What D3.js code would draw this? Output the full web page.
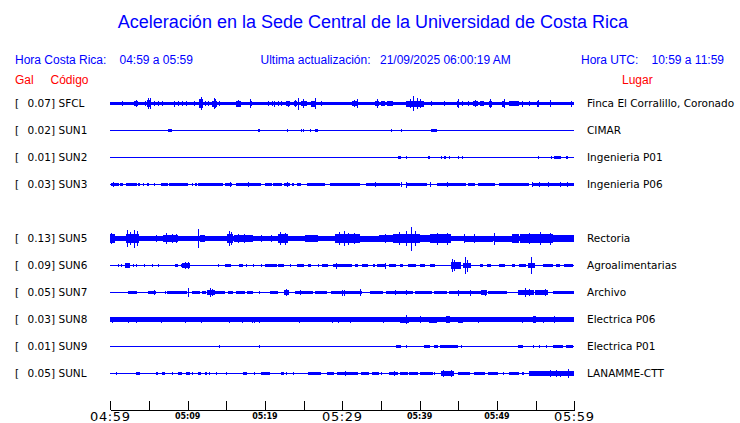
<!DOCTYPE html>
<html>
<head>
<meta charset="utf-8">
<script src="https://cdn.jsdelivr.net/npm/d3@7"></script>
<style>
  html, body { margin: 0; padding: 0; background: #ffffff; }
  svg { display: block; }
</style>
</head>
<body>
<svg id="chart" width="740" height="423"></svg>
<script>
// ---------------- DATA ----------------
const titleText = "Aceleración en la Sede Central de la Universidad de Costa Rica";
const localRange = "04:59 a 05:59";
const utcRange = "10:59 a 11:59";
const lastUpdate = "21/09/2025 06:00:19 AM";

// row order (SUN4 slot left empty)
const rowOrder = ["SFCL","SUN1","SUN2","SUN3","SUN4","SUN5","SUN6","SUN7","SUN8","SUN9","SUNL"];
const codes = ["SFCL","SUN1","SUN2","SUN3","SUN5","SUN6","SUN7","SUN8","SUN9","SUNL"];
const peakGal = [0.07,0.02,0.01,0.03,0.13,0.09,0.05,0.03,0.01,0.05];
const places = ["Finca El Corralillo, Coronado","CIMAR","Ingenieria P01","Ingenieria P06","Rectoria",
  "Agroalimentarias","Archivo","Electrica P06","Electrica P01","LANAMME-CTT"];

// time axis (minutes after 04:59)
const tickMinutes = [0,5,10,15,20,25,30,35,40,45,50,55,60];
const majorTicks = {0:"04:59",30:"05:29",60:"05:59"};
const minorTicks = {10:"05:09",20:"05:19",40:"05:39",50:"05:49"};

// envelope events per trace: [start minute, end minute, normalized half-amplitude]
const evSFCL = [[0,60,0.14],[1.5,1.5,0.2],[3.1,3.6,0.22],[3.3,3.3,0.3],[4.5,4.5,0.2],[4.7,5.2,0.3],[4.9,4.9,0.48],[5.1,5.1,0.42],
  [5.7,5.7,0.2],[6.2,6.2,0.2],[6.7,6.7,0.2],[8.2,8.2,0.25],[8.7,8.7,0.2],[9.3,9.3,0.2],[9.8,9.8,0.2],[10.8,10.8,0.2],
  [11.5,12,0.35],[11.7,11.7,0.55],[12.3,12.3,0.2],[12.6,12.6,0.2],[13.2,13.8,0.25],[13.4,13.4,0.45],[13.6,13.6,0.35],
  [14.1,14.1,0.2],[15.1,15.1,0.15],[16.3,16.9,0.25],[16.5,16.5,0.3],[18.0,18.0,0.35],[18.2,18.2,0.2],[20.4,20.4,0.2],
  [20.9,20.9,0.2],[21.2,21.2,0.25],[21.7,21.7,0.2],[22.1,22.1,0.2],[22.7,23.2,0.2],[23.0,23.0,0.25],[23.7,24.1,0.22],
  [23.9,23.9,0.3],[24.3,24.3,0.5],[24.7,25.4,0.22],[24.9,24.9,0.35],[26.0,26.6,0.25],[26.5,26.5,0.45],[27.2,27.2,0.2],
  [28.3,28.3,0.15],[28.9,28.9,0.15],[31.2,32.0,0.2],[31.5,31.5,0.3],[31.9,31.9,0.4],[34.2,34.8,0.22],[34.5,34.5,0.35],
  [35.0,35.5,0.18],[35.8,36.6,0.18],[36.2,36.2,0.2],[38.3,40.6,0.25],[38.8,38.8,0.35],[39.2,39.2,0.6],[39.6,39.6,0.45],
  [40.0,40.0,0.4],[41.5,41.5,0.2],[43.2,43.2,0.2],[44.8,45.1,0.25],[44.9,44.9,0.4],[45.5,45.5,0.2],[46.2,46.2,0.2],
  [46.9,47.5,0.22],[47.1,47.1,0.3],[47.8,48.3,0.18],[49.0,49.4,0.25],[49.1,49.1,0.35],[50.7,51.0,0.25],[50.9,50.9,0.4],
  [51.6,52.9,0.18],[53.2,53.2,0.25],[54.2,54.2,0.2],[55.2,55.4,0.25],[55.3,55.3,0.3],[56.9,56.9,0.3],[59.6,59.6,0.25]];
const evSUN1 = [[7.4,8.0,0.13],[19.1,19.3,0.13],[22.9,22.9,0.09],[24.6,24.6,0.09],[24.9,25.1,0.12],[25.8,25.8,0.09],
  [26.5,26.8,0.12],[29.6,29.6,0.08],[29.9,29.9,0.08],[32.6,32.6,0.08],[36.3,36.3,0.09],[37.0,37.0,0.08],[37.6,37.6,0.09],
  [41.1,41.1,0.08],[41.5,42.2,0.12],[42.8,42.8,0.08],[56.3,56.3,0.08],[57.7,57.7,0.08]];
const evSUN2 = [[19.3,19.3,0.08],[36.0,36.0,0.08],[37.2,37.6,0.12],[38.3,38.3,0.1],[40.5,40.5,0.08],[41.1,41.4,0.12],
  [42.2,42.2,0.08],[42.7,42.7,0.1],[43.1,43.4,0.1],[43.8,43.8,0.1],[44.3,44.3,0.08],[44.9,45.0,0.1],[45.5,45.5,0.1],
  [53.3,53.3,0.08],[55.3,55.3,0.1],[57.0,57.0,0.1],[57.4,58.3,0.12],[58.9,59.2,0.12]];
const evSUN3 = [[0.1,1.1,0.13],[0.3,0.3,0.2],[1.3,1.7,0.13],[2.0,3.4,0.13],[3.6,3.8,0.13],[4.2,4.4,0.13],[4.8,5.0,0.13],
  [5.6,5.6,0.1],[6.5,7.4,0.13],[7.6,10.1,0.13],[10.5,10.6,0.13],[11.0,11.2,0.13],[11.4,14.6,0.13],[14.8,15.7,0.13],
  [15.5,15.5,0.2],[16.3,19.5,0.13],[17.8,17.8,0.22],[20.0,20.9,0.13],[21.1,22.2,0.13],[22.4,23.2,0.13],[22.8,22.8,0.2],
  [23.5,23.7,0.13],[24.2,24.6,0.13],[25.4,27.8,0.13],[28.4,32.3,0.13],[33.1,37.4,0.13],[34.2,34.2,0.2],[37.6,37.6,0.2],
  [38.2,38.2,0.25],[38.3,40.9,0.13],[41.3,41.3,0.2],[42.2,46.0,0.13],[43.5,43.5,0.2],[46.3,47.2,0.13],[47.6,49.8,0.13],
  [50.2,54.2,0.13],[54.5,54.5,0.2],[54.6,60,0.13],[55.4,55.4,0.2],[56.6,56.6,0.18],[58.1,58.1,0.2],[59.0,59.0,0.2]];
const evSUN5 = [[0,60,0.17],[0,0.6,0.4],[0.1,0.1,0.45],[2.0,3.7,0.4],[2.2,2.2,0.7],[2.6,2.6,0.55],[3.1,3.1,0.75],[3.4,3.4,0.6],
  [4.0,5.8,0.2],[5.9,5.9,0.3],[6.8,8.8,0.28],[7.2,7.2,0.42],[8.0,8.0,0.4],[8.5,8.5,0.38],[9.0,11.0,0.2],[11.4,11.4,0.82],
  [11.6,12.2,0.3],[12.5,14.9,0.2],[15.1,15.9,0.4],[15.3,15.3,0.65],[15.6,15.6,0.55],[16.0,18.4,0.3],[16.5,16.5,0.4],
  [17.3,17.3,0.4],[18.4,21.5,0.22],[19.5,19.5,0.3],[20.8,20.8,0.3],[21.7,23.0,0.35],[22.0,22.0,0.55],[22.6,22.6,0.5],
  [23.0,25.2,0.2],[25.2,26.9,0.28],[26.0,26.0,0.3],[27.0,29.0,0.2],[29.0,32.3,0.38],[29.6,29.6,0.55],[30.2,30.2,0.6],
  [30.8,30.8,0.5],[31.5,31.5,0.45],[32.3,34.8,0.25],[34.8,36.5,0.3],[35.5,35.5,0.35],[36.6,40.0,0.4],[37.3,37.3,0.55],
  [38.2,38.2,0.6],[38.9,38.9,1.0],[39.4,39.4,0.6],[40.0,41.3,0.3],[41.3,44.1,0.35],[42.2,42.2,0.5],[43.5,43.5,0.5],
  [44.1,45.6,0.2],[45.8,45.8,0.4],[45.9,49.5,0.25],[47.0,47.0,0.35],[49.6,49.6,0.5],[49.8,51.9,0.25],[52.0,52.9,0.38],
  [53.0,57.2,0.35],[54.2,54.2,0.45],[55.5,55.5,0.55],[56.8,56.8,0.5],[57.2,60,0.28]];
const evSUN6 = [[0.4,0.4,0.08],[1.0,1.0,0.1],[1.4,1.4,0.1],[1.9,2.6,0.18],[2.9,2.9,0.1],[3.3,3.3,0.1],[4.3,4.3,0.1],[5.4,5.4,0.1],
  [6.2,6.2,0.1],[8.4,8.7,0.11],[9.1,9.1,0.1],[9.3,10.3,0.18],[9.6,9.6,0.3],[10.0,10.0,0.28],[13.9,13.9,0.1],[14.8,15.6,0.13],
  [16.6,17.1,0.13],[17.6,17.6,0.12],[18.5,18.5,0.12],[19.5,19.5,0.12],[20.0,21.5,0.12],[21.7,22.5,0.13],[23.2,23.2,0.12],
  [24.2,25.1,0.11],[25.5,26.0,0.11],[26.8,26.8,0.1],[27.4,28.1,0.12],[28.8,30.3,0.16],[29.2,29.2,0.25],[30.3,31.2,0.11],
  [31.6,32.0,0.1],[32.6,33.3,0.1],[34.0,34.2,0.1],[34.5,35.7,0.13],[35.5,35.5,0.25],[36.0,37.0,0.11],[37.4,37.8,0.11],
  [38.5,39.5,0.11],[40.1,40.7,0.11],[41.3,42.0,0.12],[44.1,45.4,0.28],[44.2,44.2,0.55],[44.5,44.5,0.45],[45.6,46.7,0.18],
  [45.9,45.9,0.68],[46.1,46.1,0.5],[47.8,48.2,0.1],[48.7,49.2,0.11],[50.3,51.1,0.1],[51.9,52.3,0.11],[52.9,53.8,0.13],
  [54.0,54.9,0.22],[54.4,54.4,0.73],[55.9,57.2,0.12],[57.6,58.2,0.11],[58.7,59.8,0.11]];
const evSUN7 = [[0.4,0.4,0.08],[1.0,1.0,0.08],[1.9,1.9,0.08],[2.3,3.4,0.13],[4.9,5.9,0.12],[5.7,5.7,0.2],[7.1,7.1,0.1],
  [7.3,9.9,0.14],[10.0,10.0,0.38],[10.5,11.6,0.12],[11.8,12.4,0.1],[12.5,13.5,0.22],[12.9,12.9,0.38],[13.2,13.2,0.32],
  [13.5,14.8,0.15],[15.2,15.9,0.09],[16.3,17.4,0.13],[17.7,18.4,0.1],[19.2,19.2,0.1],[20.6,21.7,0.14],[22.4,23.1,0.17],
  [22.7,22.7,0.28],[23.9,26.2,0.14],[24.5,24.5,0.22],[26.5,28.0,0.13],[28.6,30.3,0.16],[30.0,30.0,0.25],[30.3,32.6,0.15],
  [30.2,30.2,0.25],[32.3,32.3,0.28],[33.6,35.3,0.1],[35.7,39.2,0.14],[36.8,36.8,0.22],[38.2,38.2,0.22],[39.4,41.6,0.13],
  [41.9,43.6,0.16],[43.8,47.9,0.14],[45.0,45.0,0.25],[46.5,46.5,0.25],[47.9,48.7,0.17],[48.5,48.5,0.25],[48.9,51.3,0.13],
  [52.7,54.8,0.22],[53.6,53.6,0.35],[54.1,54.1,0.3],[54.9,56.6,0.17],[56.2,56.2,0.28],[57.2,60,0.13]];
const evSUN8 = [[0,60,0.17],[30,60,0.19],[0.2,0.2,0.25],[2.3,2.3,0.25],[3.3,3.3,0.25],[6.6,6.6,0.25],[9.6,9.6,0.25],
  [11.7,11.7,0.25],[15.4,15.4,0.25],[17.0,17.0,0.25],[18.3,18.3,0.25],[18.6,18.6,0.25],[19.2,19.2,0.25],[24.4,24.4,0.25],
  [28.7,28.7,0.25],[29.5,29.5,0.25],[31.0,31.0,0.25],[35.3,35.3,0.25],[37.4,38.6,0.25],[38.3,38.3,0.35],[40.0,40.0,0.28],
  [41.2,42.2,0.25],[43.4,43.9,0.3],[44.9,45.6,0.25],[47.5,47.5,0.25],[53.3,53.3,0.25],[54.6,55.0,0.27],[55.9,55.9,0.25],
  [57.4,57.4,0.3]];
const evSUN9 = [[12.6,12.6,0.08],[14.0,14.0,0.1],[15.4,15.4,0.08],[19.2,19.2,0.1],[29.3,29.3,0.08],[31.7,31.7,0.08],
  [35.2,35.2,0.08],[36.1,36.1,0.08],[37.0,37.6,0.1],[38.2,38.2,0.1],[40.5,41.3,0.1],[41.8,42.4,0.1],[42.6,45.0,0.12],
  [45.3,45.3,0.1],[46.5,46.5,0.08],[52.7,53.4,0.1],[54.6,54.6,0.1],[55.4,55.4,0.1],[56.3,56.3,0.1],[57.2,58.5,0.12],
  [58.9,59.8,0.1]];
const evSUNL = [[0.7,0.7,0.12],[2.1,2.1,0.08],[2.7,2.7,0.08],[3.3,3.8,0.15],[5.4,5.4,0.08],[5.9,6.2,0.12],[6.7,7.1,0.12],
  [7.4,7.4,0.08],[8.0,8.0,0.1],[8.8,9.3,0.14],[9.8,10.3,0.14],[10.6,10.6,0.1],[11.3,11.7,0.12],[12.2,12.5,0.12],
  [12.8,12.8,0.1],[13.7,13.7,0.1],[15.0,15.0,0.12],[16.1,16.1,0.08],[17.1,17.7,0.12],[18.6,18.6,0.1],[19.5,20.6,0.15],
  [22.1,22.4,0.12],[22.7,22.9,0.1],[23.6,23.6,0.1],[25.5,27.3,0.14],[28.0,28.9,0.15],[29.3,32.0,0.15],[30.3,30.3,0.2],
  [32.4,33.5,0.12],[33.9,34.8,0.15],[35.0,35.0,0.1],[36.1,37.2,0.15],[36.7,36.7,0.22],[37.4,38.5,0.12],[38.6,39.8,0.15],
  [40.1,41.7,0.14],[41.9,41.9,0.1],[42.7,44.5,0.2],[43.0,43.0,0.3],[44.1,44.1,0.3],[45.0,46.5,0.12],[47.0,48.4,0.12],
  [48.9,50.1,0.14],[50.8,50.8,0.1],[51.5,52.9,0.15],[53.3,53.5,0.12],[54.1,60,0.2],[56.9,56.9,0.28],[57.6,57.6,0.28],
  [58.1,58.1,0.25],[59.2,59.2,0.38]];
const traceEvents = [evSFCL, evSUN1, evSUN2, evSUN3, evSUN5, evSUN6, evSUN7, evSUN8, evSUN9, evSUNL];

// ---------------- DRAW ----------------
const BLUE = "#0000ff", RED = "#ff0000";
const svg = d3.select("#chart");

const x = d3.scaleLinear().domain([0, 60]).range([110.3, 574.3]);
const row = d3.scalePoint().domain(rowOrder).range([103.5, 373.5]);
const amp = d3.scaleLinear().domain([0, 1]).range([0, 12]);

// header
svg.append("text").attr("x", 373).attr("y", 28).attr("text-anchor", "middle")
  .attr("font-family", "Liberation Sans, Arial, sans-serif").attr("font-size", 18)
  .attr("fill", BLUE).text(titleText);

const hdr = svg.append("g").attr("font-family", "Liberation Sans, Arial, sans-serif").attr("font-size", 12).attr("fill", BLUE);
hdr.append("text").attr("x", 15).attr("y", 64).text("Hora Costa Rica:");
hdr.append("text").attr("x", 119.5).attr("y", 64).text(localRange);
hdr.append("text").attr("x", 260.5).attr("y", 64).text("Ultima actualización:");
hdr.append("text").attr("x", 380).attr("y", 64).text(lastUpdate);
hdr.append("text").attr("x", 581).attr("y", 64).text("Hora UTC:");
hdr.append("text").attr("x", 724).attr("y", 64).attr("text-anchor", "end").text(utcRange);

const hdr2 = svg.append("g").attr("font-family", "Liberation Sans, Arial, sans-serif").attr("font-size", 12).attr("fill", RED);
hdr2.append("text").attr("x", 15).attr("y", 84).text("Gal");
hdr2.append("text").attr("x", 50.5).attr("y", 84).text("Código");
hdr2.append("text").attr("x", 622).attr("y", 84).text("Lugar");

// traces
const fmt = d3.format(".2f");
codes.forEach((code, i) => {
  const cy = row(code);
  const g = svg.append("g");
  g.append("line").attr("x1", x(0)).attr("x2", x(60)).attr("y1", cy).attr("y2", cy)
    .attr("stroke", BLUE).attr("stroke-width", 1).attr("shape-rendering", "crispEdges");
  g.selectAll("rect").data(traceEvents[i]).join("rect")
    .attr("x", d => x(d[0]))
    .attr("width", d => Math.max(1, x(d[1]) - x(d[0])))
    .attr("y", d => cy - amp(d[2]))
    .attr("height", d => 2 * amp(d[2]))
    .attr("fill", BLUE).attr("shape-rendering", "crispEdges");

  const lab = svg.append("g").attr("font-family", "DejaVu Sans, sans-serif").attr("font-size", 10.5).attr("fill", "#000");
  lab.append("text").attr("x", 15).attr("y", cy + 3.5).text("[");
  lab.append("text").attr("x", 55).attr("y", cy + 3.5).attr("text-anchor", "end").text(fmt(peakGal[i]) + "]");
  lab.append("text").attr("x", 58.5).attr("y", cy + 3.5).text(code);
  lab.append("text").attr("x", 587).attr("y", cy + 3.5).text(places[i]);
});

// time axis
const axis = d3.axisBottom(x).tickValues(tickMinutes).tickSizeInner(-9).tickSizeOuter(0).tickFormat("");
const ax = svg.append("g").attr("transform", "translate(0,409.5)").call(axis);
ax.selectAll("path, line").attr("stroke", "#000").attr("stroke-width", 1).attr("shape-rendering", "crispEdges");

const tl = svg.append("g").attr("fill", "#000").attr("text-anchor", "middle").attr("font-family", "DejaVu Sans, sans-serif");
Object.entries(majorTicks).forEach(([m, s]) => {
  tl.append("text").attr("x", x(+m)).attr("y", 420.5).attr("font-size", 13).attr("letter-spacing", 0.6).text(s);
});
Object.entries(minorTicks).forEach(([m, s]) => {
  tl.append("text").attr("x", x(+m)).attr("y", 418.5).attr("font-size", 8).attr("font-weight", "bold").text(s);
});
</script>
</body>
</html>
